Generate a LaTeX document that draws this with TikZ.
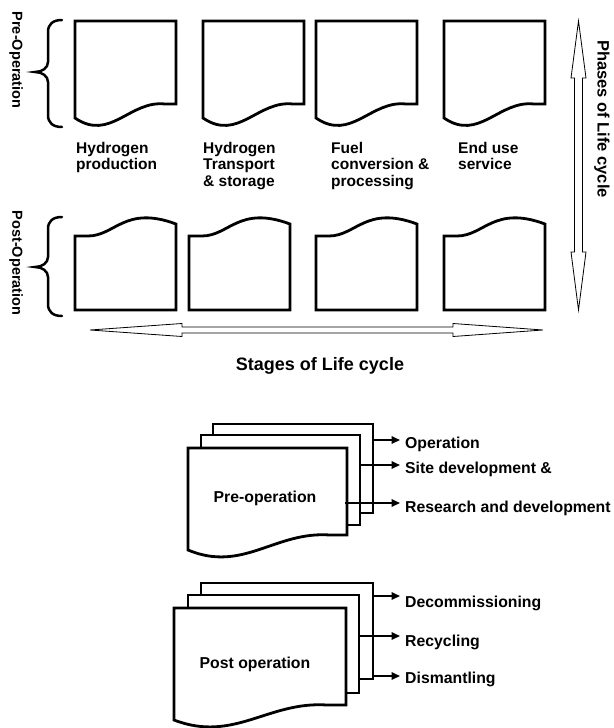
\documentclass[tikz,border=0pt]{standalone}
\usepackage{fontspec}
\setmainfont{Liberation Sans}
\usetikzlibrary{arrows.meta}
\begin{document}
\begin{tikzpicture}[x=1pt,y=-1pt,
  doc/.style={draw=black,line width=2.8pt,fill=white,line join=miter},
  lbl/.style={font=\bfseries\fontsize{15.5}{16.5}\selectfont,inner sep=0pt,align=left,anchor=north west},
  blbl/.style={font=\bfseries\fontsize{15.8}{17}\selectfont,inner sep=0pt,anchor=base west},
  outl/.style={draw=black,line width=0.8pt,fill=white,line join=miter},
  arr/.style={line width=2pt,shorten >=5pt,-{Triangle[length=8.5pt,width=7.5pt]}},
  bracestyle/.style={draw,line width=2.5pt,line cap=round},
  side/.style={font=\bfseries\fontsize{14.5}{16}\selectfont,rotate=-90,inner sep=0pt}
]
\useasboundingbox (0,0) rectangle (613,728);

% pre-operation documents
\foreach \x in {75,203,316,444}{
  \begin{scope}[shift={(\x,21)}]
    \draw[doc] (0,0) -- (101,0) -- (101,83) -- (90,83) .. controls (55,79) and (35,121) .. (0,97) -- cycle;
  \end{scope}
}
% post-operation documents
\foreach \x in {75,189,316,444}{
  \begin{scope}[shift={(\x,310)}]
    \draw[doc] (0,0) -- (0,-74) -- (13,-74) .. controls (40,-74) and (50,-105) .. (101,-86) -- (101,0) -- cycle;
  \end{scope}
}

\node[lbl] (l1) at (76,142) {Hydrogen\\production};
\node[lbl] (l2) at (203,142) {Hydrogen\\Transport\\\& storage};
\node[lbl] (l3) at (331,142) {Fuel\\conversion \&\\processing};
\node[lbl] (l4) at (458,142) {End use\\service};

% braces
\draw[bracestyle] (62,20) .. controls (53,20) and (48,24) .. (48,32) -- (48,62) .. controls (48,68) and (42,72) .. (35,72) .. controls (42,72) and (48,76) .. (48,82) -- (48,115) .. controls (48,123) and (53,127) .. (62,127);
\draw[bracestyle] (62,217) .. controls (53,217) and (48,221) .. (48,229) -- (48,257) .. controls (48,263) and (42,267) .. (35,267) .. controls (42,267) and (48,271) .. (48,277) -- (48,304) .. controls (48,312) and (53,316) .. (62,316);

\node[side] (pre) at (16,60) {Pre-Operation};
\node[side] (post) at (16,263) {Post-Operation};

% double arrows
\draw[outl] (90,330) -- (182,323.5) -- (182,327) -- (453,327) -- (453,323.5) -- (543,330) -- (453,336.5) -- (453,333) -- (182,333) -- (182,336.5) -- cycle;
\draw[outl] (578.5,21) -- (586,78) -- (582.5,78) -- (582.5,252) -- (586,252) -- (578.5,310) -- (571,252) -- (574.5,252) -- (574.5,78) -- (571,78) -- cycle;

\node[font=\bfseries\fontsize{16.5}{18}\selectfont,rotate=-90,inner sep=0pt] (phases) at (602,119) {Phases of Life cycle};
\node[font=\bfseries\fontsize{18}{20}\selectfont,inner sep=0pt,anchor=base] (stages) at (320,370) {Stages of Life cycle};

% pre-operation stack
\draw[doc] (213,424) rectangle (373,513);
\draw[doc] (201,435) rectangle (360,525);
\begin{scope}[shift={(188,448)}]
  \draw[doc] (0,0) -- (159,0) -- (159,87) -- (142,87) .. controls (87,83) and (55,125) .. (0,102) -- cycle;
\end{scope}
\node[font=\bfseries\fontsize{15.8}{17}\selectfont,inner sep=0pt,anchor=base] (preop) at (265,502) {Pre-operation};

\node[blbl] (o1) at (405,448) {Operation};
\node[blbl] (o2) at (405,473) {Site development \&};
\node[blbl] (o3) at (405,512) {Research and development};
\coordinate (a1) at (373,440);
\coordinate (a2) at (360,465);
\coordinate (a3) at (345,503);
\draw[arr] (a1) -- (a1 -| o1.west);
\draw[arr] (a2) -- (a2 -| o2.west);
\draw[arr] (a3) -- (a3 -| o3.west);

% post-operation stack
\draw[doc] (201,583) rectangle (373,679);
\draw[doc] (188,595) rectangle (359,693);
\begin{scope}[shift={(174,608)}]
  \draw[doc] (0,0) -- (172,0) -- (172,97) -- (153,97) .. controls (94,93) and (60,135) .. (0,112) -- cycle;
\end{scope}
\node[font=\bfseries\fontsize{15.8}{17}\selectfont,inner sep=0pt,anchor=base] (postop) at (255,668) {Post operation};

\node[blbl] (d1) at (405,607) {Decommissioning};
\node[blbl] (d2) at (405,646) {Recycling};
\node[blbl] (d3) at (405,683) {Dismantling};
\coordinate (b1) at (373,596);
\coordinate (b2) at (359,636);
\coordinate (b3) at (373,676);
\draw[arr] (b1) -- (b1 -| d1.west);
\draw[arr] (b2) -- (b2 -| d2.west);
\draw[arr] (b3) -- (b3 -| d3.west);
\end{tikzpicture}
\end{document}
